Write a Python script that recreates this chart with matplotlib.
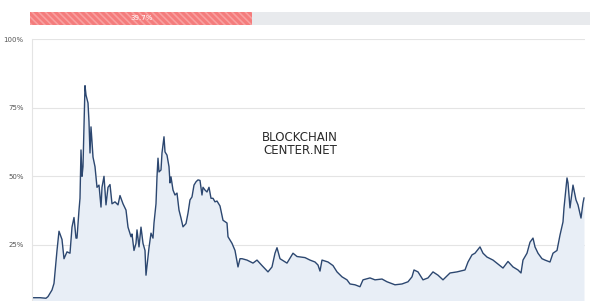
import matplotlib
matplotlib.use("Agg")
import matplotlib.pyplot as plt
from matplotlib.patches import Rectangle

# time step index (weeks from start) and dominance-like share in %
weeks = [0, 8, 14, 16, 20, 22, 25, 27, 29, 30, 32, 35, 38, 40, 42, 44, 45, 47, 48,
         49, 50, 51, 53, 54, 56, 57, 58, 59, 61, 63, 65, 67, 69, 70, 72, 74, 76, 78,
         80, 83, 86, 88, 91, 94, 96, 99, 100, 102, 104, 105, 107, 109, 111, 113, 114,
         116, 117, 119, 121, 122, 124, 125, 126, 127, 129, 130, 132, 133, 135, 137,
         138, 139, 141, 143, 145, 147, 149, 151, 154, 156, 158, 160, 162, 164, 166,
         168, 170, 171, 173, 175, 177, 179, 181, 183, 185, 188, 191, 195, 196, 200,
         203, 206, 208, 210, 215, 221, 225, 230, 236, 240, 243, 245, 248, 255, 261,
         265, 273, 278, 283, 286, 288, 290, 296, 301, 305, 310, 315, 318, 323, 328,
         331, 338, 343, 350, 355, 363, 370, 376, 380, 382, 386, 391, 396, 401, 406,
         411, 418, 425, 433, 436, 440, 443, 448, 451, 455, 461, 468, 471, 476, 481,
         486, 489, 491, 495, 498, 501, 503, 506, 510, 513, 518, 521, 525, 528, 531,
         532, 535, 536, 538, 540, 541, 544, 546, 549, 551, 552]
share = [5.8, 5.8, 5.6, 6.2, 8.6, 11, 23, 30, 28, 27, 20, 22.5, 22, 31.5, 35, 27.5,
         27.5, 37.7, 42, 59.6, 50, 53.5, 83, 79.6, 76.7, 69.8, 58.5, 68, 57, 53.5,
         46, 46.8, 38.8, 46, 50, 39.6, 46, 47, 40, 40.7, 39.6, 43, 40, 37.7, 31.5,
         28, 29, 23, 25.6, 30.5, 24.3, 31.5, 25.6, 23, 14, 20.6, 24, 29.3, 27.5, 33,
         40, 49.8, 56.6, 51.6, 52.3, 58.5, 64.4, 58.9, 57.7, 53.5, 47.6, 49.8, 45,
         43.2, 43.9, 37.7, 34.8, 31.6, 32.8, 36.6, 41.4, 42.5, 46.8, 48, 48.7, 48.5,
         43.2, 46, 45, 44.3, 46, 42, 42, 40.7, 41, 39.2, 34, 33, 28, 25.6, 23, 17,
         20, 20, 19.5, 18.4, 19.5, 17.5, 15.2, 17, 22, 24, 20, 18.4, 22, 20.8, 20.4,
         19.5, 18.8, 17.7, 15.5, 19.5, 18.8, 17.5, 15.2, 13.4, 12.3, 10.8, 10.5, 9.8,
         12.3, 13, 12.3, 12.6, 11.6, 10.5, 10.8, 11.6, 13.4, 15.9, 15.2, 12.3, 13,
         15.2, 14, 12.3, 14.8, 15.2, 15.9, 18.8, 21.4, 22, 24.3, 22, 20.6, 19.5, 17.5,
         16.6, 19, 17, 15.9, 14.8, 19.5, 22, 26, 27.5, 24.3, 22, 20, 19.5, 18.8, 22,
         23, 28.6, 33.4, 38.5, 49.4, 47.6, 38.5, 43.9, 46.8, 41.4, 39.6, 34.8, 40.3,
         42.1]

ticks = [25, 50, 75, 100]
tick_labels = ["25%", "50%", "75%", "100%"]
progress = 39.7

line_color = "#2c4770"
fill_color = "#e8eef6"
grid_color = "#e4e4e4"

plt.rcParams["hatch.linewidth"] = 1.2

fig = plt.figure(figsize=(6, 3.01), dpi=100)

# main chart
ax = fig.add_axes([32 / 600, 0, 553 / 600, 262 / 301])
ax.fill_between(weeks, share, 0, color=fill_color, lw=0)
ax.plot(weeks, share, color=line_color, lw=1.0)
ax.set_xlim(0, 553)
ax.set_ylim(4.6, 100)
ax.set_yticks(ticks)
ax.set_yticklabels(tick_labels, fontsize=5, color="#555555")
ax.tick_params(axis="y", length=0, pad=6)
ax.set_xticks([])
ax.grid(axis="y", color=grid_color, lw=0.8)
ax.set_axisbelow(True)
for side in ["top", "right", "bottom"]:
    ax.spines[side].set_visible(False)
ax.spines["left"].set_color(grid_color)
ax.spines["left"].set_linewidth(0.8)

ax.text(0.485, 0.60, "BLOCKCHAIN\nCENTER.NET", transform=ax.transAxes,
        ha="center", va="center", fontsize=8.5, color="#2a2a2a",
        linespacing=0.95, family="DejaVu Sans")

# progress bar on top
bar = fig.add_axes([30 / 600, 276 / 301, 560 / 600, 13 / 301])
bar.set_xlim(0, 100)
bar.set_ylim(0, 1)
bar.axis("off")
bar.add_patch(Rectangle((0, 0), 100, 1, facecolor="#e8eaed", edgecolor="none"))
bar.add_patch(Rectangle((0, 0), progress, 1, facecolor="#f47c7c",
                        edgecolor="#f8a0a0", hatch="\\\\\\\\\\", lw=0))
bar.text(progress / 2, 0.5, f"{progress}%", ha="center", va="center",
         fontsize=5, color="white")

fig.savefig("out.png", dpi=100)
